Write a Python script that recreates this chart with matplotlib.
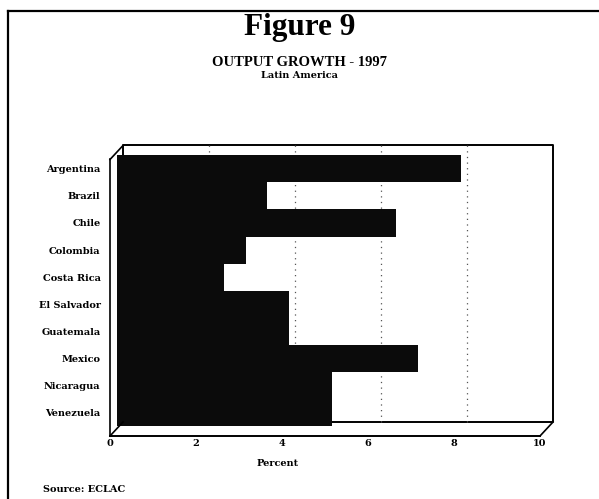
import numpy as np
import matplotlib
matplotlib.use('Agg')
import matplotlib.pyplot as plt
import matplotlib.transforms as mtransforms
from matplotlib.lines import Line2D

# data
countries = ['Argentina', 'Brazil', 'Chile', 'Colombia', 'Costa Rica',
             'El Salvador', 'Guatemala', 'Mexico', 'Nicaragua', 'Venezuela']
growth = [8.0, 3.5, 6.5, 3.0, 2.5, 4.0, 4.0, 7.0, 5.0, 5.0]
xticks = [0, 2, 4, 6, 8, 10]
grid_at = [2, 4, 6, 8]

W, H = 599, 499
fig = plt.figure(figsize=(W / 100, H / 100), dpi=100)
fig.patch.set_facecolor('white')

def fx(px):
    return px / W

def fy(py):
    return 1 - py / H

small = dict(family='DejaVu Serif', fontweight='bold', fontsize=7)

# mid-depth plane of the pseudo 3d box
left, right, top, bottom = 116.5, 546.5, 152.5, 429
ax = fig.add_axes([fx(left), fy(bottom), fx(right - left), (bottom - top) / H])
ax.set_facecolor('none')
for s in ax.spines.values():
    s.set_visible(False)

ax.barh(range(len(countries)), growth, height=1.0, color='#0b0b0b',
        edgecolor='none', zorder=3)
ax.set_xlim(0, 10)
ax.set_ylim(len(countries) - 0.4, -0.6)
ax.set_xticks([])
ax.set_yticks(range(len(countries)))
ax.set_yticklabels(countries, **small)
ax.tick_params(axis='y', length=0, pad=11.5)

# depth offsets (half depth each way)
dx, dy = 6.5 / 100, 7 / 100
back = ax.transAxes + mtransforms.ScaledTranslation(dx, dy, fig.dpi_scale_trans)
front = ax.transAxes + mtransforms.ScaledTranslation(-dx, -dy, fig.dpi_scale_trans)
back_x = mtransforms.blended_transform_factory(ax.transData, ax.transAxes) + \
    mtransforms.ScaledTranslation(dx, dy, fig.dpi_scale_trans)
front_x = mtransforms.blended_transform_factory(ax.transData, ax.transAxes) + \
    mtransforms.ScaledTranslation(-dx, -dy, fig.dpi_scale_trans)

def seg(x, y, tr, **kw):
    ax.add_line(Line2D(x, y, transform=tr, clip_on=False, **kw))

# back wall
seg([0, 1, 1, 0, 0], [0, 0, 1, 1, 0], back, color='black', lw=1.4, zorder=1)
for g in grid_at:
    seg([g, g], [0, 1], back_x, color='#555555', lw=0.9,
        linestyle=(0, (1, 3.5)), zorder=1)
# front edges
seg([0, 0], [0, 1], front, color='black', lw=1.2, zorder=4)
seg([0, 1], [0, 0], front, color='black', lw=1.4, zorder=4)
# connecting diagonals
for (a, b) in [(0, 1), (0, 0), (1, 0)]:
    p1 = front.transform((a, b))
    p2 = back.transform((a, b))
    fig.add_artist(Line2D([p1[0] / fig.bbox.width, p2[0] / fig.bbox.width],
                          [p1[1] / fig.bbox.height, p2[1] / fig.bbox.height],
                          color='black', lw=1.2, zorder=4))

# x tick labels on the front plane
for t in xticks:
    ax.text(t, 0, str(t), transform=front_x + mtransforms.ScaledTranslation(
        0, -8 / 100, fig.dpi_scale_trans), ha='center', va='center', **small)

# titles and notes
fig.text(0.5, fy(28), 'Figure 9', ha='center', va='center',
         family='Liberation Serif', fontweight='bold', fontsize=22.5)
fig.text(0.5, fy(62), 'OUTPUT GROWTH - 1997', ha='center', va='center',
         family='Liberation Serif', fontweight='bold', fontsize=10.5)
fig.text(0.5, fy(76), 'Latin America', ha='center', va='center', **small)
fig.text(fx(278), fy(464), 'Percent', ha='center', va='center', **small)
fig.text(fx(43), fy(489), 'Source: ECLAC', ha='left', va='center', **small)

# page frame
fig.add_artist(Line2D([fx(8), fx(8)], [0, fy(11)], color='black', lw=1.6))
fig.add_artist(Line2D([fx(8), 1], [fy(11), fy(11)], color='black', lw=1.6))

fig.savefig('out.png', dpi=100)
